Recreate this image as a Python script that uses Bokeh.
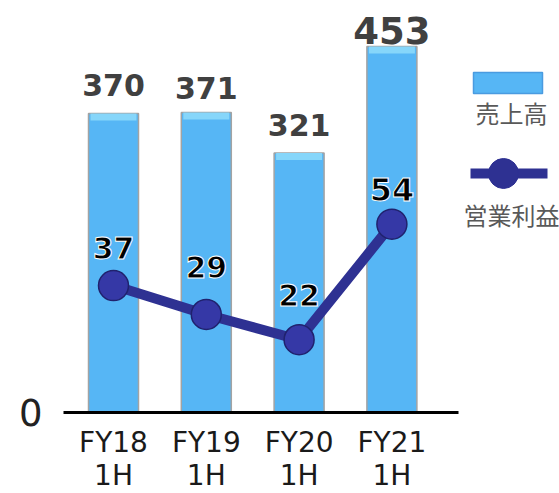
from bokeh.plotting import figure
from bokeh.models import ColumnDataSource, Range1d, FixedTicker
from bokeh.core.properties import value
from bokeh.embed import file_html
from bokeh.resources import INLINE

# ---- data ----
periods = ["FY18\n1H", "FY19\n1H", "FY20\n1H", "FY21\n1H"]
sales = [370, 371, 321, 453]          # 売上高
op_profit = [37, 29, 22, 54]          # 営業利益
legend_labels = ["売上高", "営業利益"]

xs = list(range(len(periods)))

# ---- layout constants (pixels of the 559x493 canvas) ----
W, H = 559, 493
X0, DX = 113.0, 92.8          # pixel of first category, pixels per category
Y0, DY = 411.5, 0.807         # pixel of sales zero, pixels per sales unit
Z0, DZ = 418.7, 3.612         # pixel of profit zero, pixels per profit unit
TXT = 13                      # baseline correction of svg text


def xd(px):
    return (px - X0) / DX


def yd(py):
    return (Y0 - py) / DY


src = ColumnDataSource(dict(
    x=xs,
    sales=sales,
    op=op_profit,
    sales_txt=[str(v) for v in sales],
    op_txt=[str(v) for v in op_profit],
))
# label styles
src.data["sales_size"] = ["30px", "30px", "30px", "37px"]
src.data["sales_off"] = [-15 - TXT, -12 - TXT, -15 - TXT, -3 - TXT]
src.data["op_off"] = [-25 - TXT, -34 - TXT, -32 - TXT, -22 - TXT]
src.data["op_size"] = ["30px", "30px", "30px", "32px"]
src.data["bevel"] = [v - 7 / DY for v in sales]

BAR = "#56B6F5"
NAVY = "#2E3192"

p = figure(width=W, height=H, output_backend="svg", toolbar_location=None,
           x_range=Range1d(xd(0), xd(W)), y_range=Range1d(yd(H), yd(0)),
           min_border=0)
p.extra_y_ranges = {"op": Range1d((Z0 - H) / DZ, Z0 / DZ)}
p.outline_line_color = None
p.grid.grid_line_color = None

# axes drawn inside the frame at the zero line
p.xaxis.fixed_location = 0
p.xaxis.bounds = (xd(63), xd(458))
p.xaxis.ticker = FixedTicker(ticks=xs)
p.xaxis.major_label_overrides = {i: periods[i] for i in xs}
p.xaxis.axis_line_color = "black"
p.xaxis.axis_line_width = 3
p.xaxis.major_tick_line_color = None
p.xaxis.minor_tick_line_color = None
p.xaxis.major_label_text_font = "DejaVu Sans"
p.xaxis.major_label_text_font_size = "28px"
p.xaxis.major_label_text_color = "#1a1a1a"
p.xaxis.major_label_text_line_height = 1.0
p.xaxis.major_label_standoff = 8

p.yaxis.fixed_location = xd(63)
p.yaxis.ticker = FixedTicker(ticks=[0])
p.yaxis.axis_line_color = None
p.yaxis.major_tick_line_color = None
p.yaxis.minor_tick_line_color = None
p.yaxis.major_label_text_font = "DejaVu Sans"
p.yaxis.major_label_text_font_size = "37px"
p.yaxis.major_label_text_color = "#222222"
p.yaxis.major_label_standoff = 15

# bars
p.vbar(x="x", top="sales", width=50 / DX, source=src,
       fill_color=BAR, line_color="#A3A3A3", line_width=1.5)
p.vbar(x="x", top="sales", bottom="bevel", width=46 / DX, source=src,
       fill_color="#86D6FA", line_color=None)
p.text(x="x", y="sales", text="sales_txt", source=src,
       text_align="center", text_baseline="alphabetic",
       y_offset="sales_off", text_font=value("DejaVu Sans"),
       text_font_style="bold", text_font_size="sales_size",
       text_color="#404040")

# operating profit line
p.line(x="x", y="op", source=src, y_range_name="op",
       line_color=NAVY, line_width=10)
p.scatter(x="x", y="op", source=src, y_range_name="op", size=30,
          fill_color="#3538A6", line_color="#20226E", line_width=1.5)
p.text(x="x", y="op", text="op_txt", source=src, y_range_name="op",
       text_align="center", text_baseline="alphabetic", y_offset="op_off",
       text_font=value("DejaVu Sans"), text_font_style="bold",
       text_font_size="op_size", text_color="black",
       text_outline_color="white")

# ---- legend (right side) ----
p.rect(x=[xd(507.5)], y=[yd(82.5)], width=69, height=21,
       width_units="screen", height_units="screen",
       fill_color=BAR, line_color="#4A9BE0", line_width=1.5)
p.text(x=[xd(511)], y=[yd(125)], y_offset=-TXT, text=[legend_labels[0]],
       text_align="center", text_baseline="alphabetic",
       text_font=value("Noto Sans CJK JP"), text_font_size="24px",
       text_color="#595959")
p.line(x=[xd(470), xd(547)], y=[yd(173), yd(173)], line_color=NAVY,
       line_width=10)
p.scatter(x=[xd(503)], y=[yd(173)], size=30, fill_color=NAVY,
          line_color=NAVY)
p.text(x=[xd(511)], y=[yd(227)], y_offset=-TXT, text=[legend_labels[1]],
       text_align="center", text_baseline="alphabetic",
       text_font=value("Noto Sans CJK JP"), text_font_size="24px",
       text_color="#595959")

open("out.html", "w").write(file_html(p, INLINE))
